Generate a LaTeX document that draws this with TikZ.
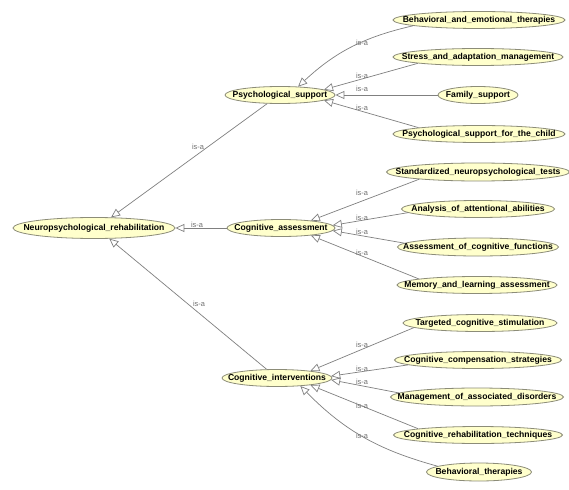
\documentclass[tikz,border=0pt]{standalone}
\usepackage{fontspec}
\setmainfont{Liberation Sans}
\usetikzlibrary{shapes.geometric,arrows.meta}
\definecolor{nodefill}{RGB}{255,255,204}
\definecolor{nodeline}{RGB}{140,140,120}
\definecolor{edgecol}{RGB}{128,128,128}
\definecolor{lblcol}{RGB}{110,110,110}
\begin{document}
\begin{tikzpicture}[x=1pt,y=-1pt,
  cls/.style={ellipse, draw=nodeline, fill=nodefill, line width=0.8pt,
    inner xsep=-30pt, inner ysep=0pt, minimum height=17pt,
    font=\fontsize{8.6}{10}\selectfont\bfseries},
  isa/.style={draw=edgecol, line width=0.7pt, -{Triangle[open, length=9pt, width=8pt]}},
  lbl/.style={font=\fontsize{7.4}{8}\selectfont, text=lblcol, inner sep=0pt}]
\useasboundingbox[fill=white] (0,0) rectangle (569,489);

% nodes
\node[cls, minimum width=162pt, minimum height=21pt] (n) at (94,228) {Neuropsychological\_rehabilitation};
\node[cls, minimum width=110pt] (ps) at (280,95) {Psychological\_support};
\node[cls, minimum width=108pt] (ca) at (281,228) {Cognitive\_assessment};
\node[cls, minimum width=110pt] (ci) at (277,378) {Cognitive\_interventions};

\node[cls, minimum width=172pt] (b1) at (479,20) {Behavioral\_and\_emotional\_therapies};
\node[cls, minimum width=170pt] (b2) at (478,57) {Stress\_and\_adaptation\_management};
\node[cls, minimum width=80pt]  (b3) at (478,95) {Family\_support};
\node[cls, minimum width=172pt] (b4) at (479,134) {Psychological\_support\_for\_the\_child};

\node[cls, minimum width=183pt, minimum height=18pt] (c1) at (478,172) {Standardized\_neuropsychological\_tests};
\node[cls, minimum width=153pt] (c2) at (478,209) {Analysis\_of\_attentional\_abilities};
\node[cls, minimum width=161pt, minimum height=18pt] (c3) at (478,247) {Assessment\_of\_cognitive\_functions};
\node[cls, minimum width=160pt] (c4) at (477,285) {Memory\_and\_learning\_assessment};

\node[cls, minimum width=154pt] (d1) at (480,323) {Targeted\_cognitive\_stimulation};
\node[cls, minimum width=167pt] (d2) at (478,360) {Cognitive\_compensation\_strategies};
\node[cls, minimum width=173pt, minimum height=18pt] (d3) at (477,397) {Management\_of\_associated\_disorders};
\node[cls, minimum width=169pt] (d4) at (478,435) {Cognitive\_rehabilitation\_techniques};
\node[cls, minimum width=105pt, minimum height=18pt] (d5) at (479,472) {Behavioral\_therapies};

% connectors
\draw[isa] (ps.214) -- (n.32);
\draw[isa] (ca.180) -- (n.0);
\draw[isa] (ci.140) -- (n.325);

\draw[isa] (b1.185) to[bend right=15] (ps.25);
\draw[isa] (b2.186) -- (ps.7);
\draw[isa] (b3.180) -- (ps.0);
\draw[isa] (b4.174) -- (ps.353);

\draw[isa] (c1.187) -- (ca.14);
\draw[isa] (c2.183) -- (ca.3);
\draw[isa] (c3.177) -- (ca.357);
\draw[isa] (c4.174) -- (ca.346);

\draw[isa] (d1.184) -- (ci.12);
\draw[isa] (d2.184) -- (ci.2);
\draw[isa] (d3.177) -- (ci.358);
\draw[isa] (d4.174) -- (ci.348);
\draw[isa] (d5.172) to[bend left=15] (ci.341);

% labels
\node[lbl] (l1) at (198,147) {is-a};
\node[lbl] (l2) at (197,224.5) {is-a};
\node[lbl] (l3) at (199,304) {is-a};
\node[lbl] (l4) at (362,42.5) {is-a};
\node[lbl] (l5) at (362,76) {is-a};
\node[lbl] (l6) at (362,88.5) {is-a};
\node[lbl] (l7) at (362,107.5) {is-a};
\node[lbl] (l8) at (362,192.5) {is-a};
\node[lbl] (l9) at (362,218) {is-a};
\node[lbl] (l10) at (362,231.5) {is-a};
\node[lbl] (l11) at (362,252.5) {is-a};
\node[lbl] (l12) at (362,344.5) {is-a};
\node[lbl] (l13) at (362,368.5) {is-a};
\node[lbl] (l14) at (362,381.5) {is-a};
\node[lbl] (l15) at (362,405.5) {is-a};
\node[lbl] (l16) at (362,435.5) {is-a};
\end{tikzpicture}
\end{document}
